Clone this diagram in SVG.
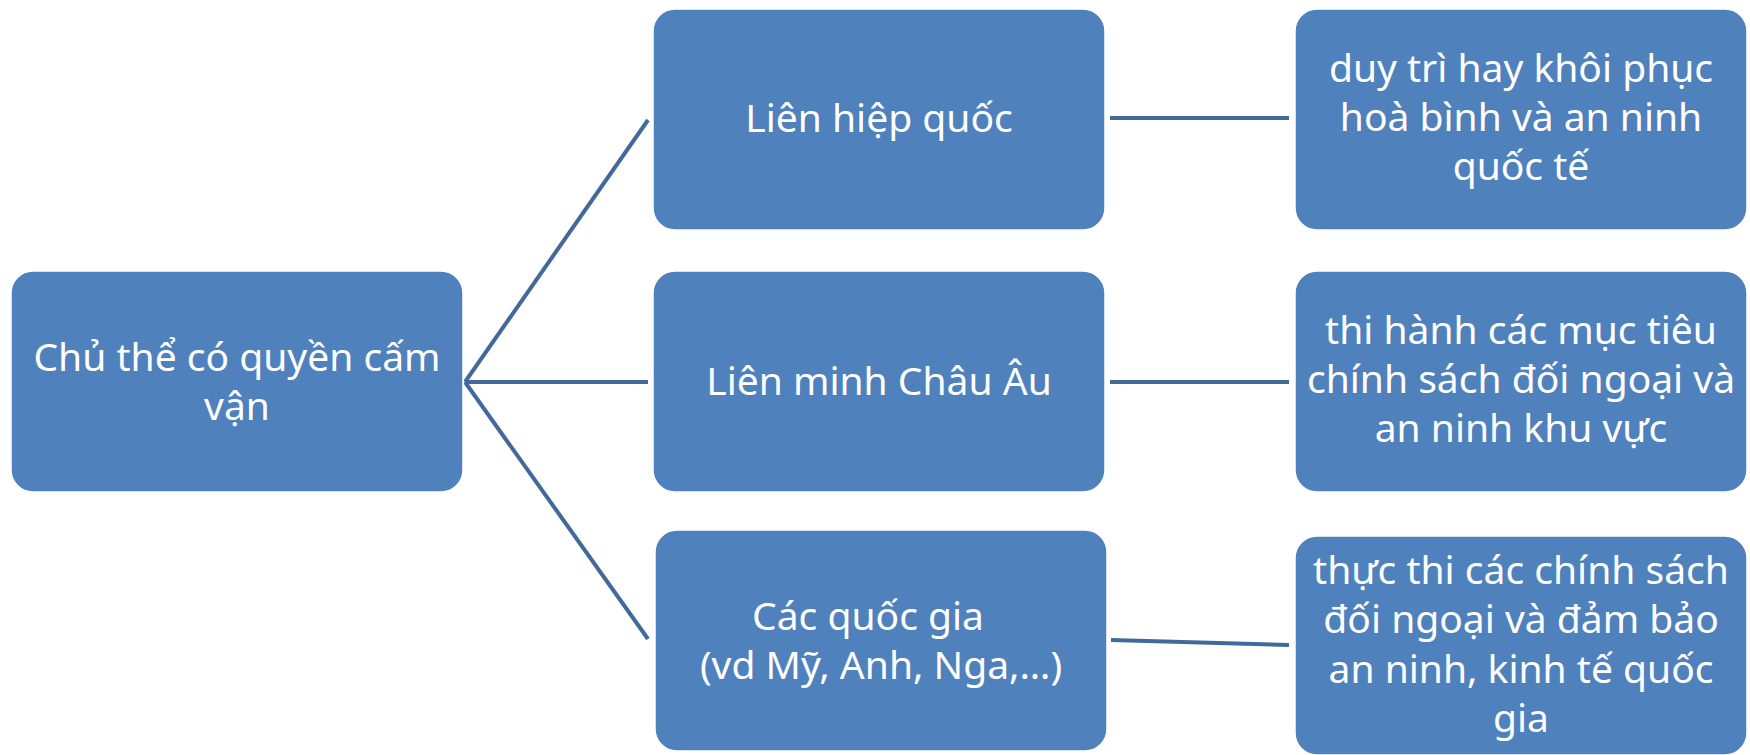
<svg xmlns="http://www.w3.org/2000/svg" width="1750" height="755" viewBox="0 0 1750 755">
<style>
.box{fill:#4F81BD;stroke:#ffffff;stroke-width:1.5}
.t{font-family:"Noto Sans","Open Sans","DejaVu Sans",sans-serif;font-size:39px;fill:#ffffff;text-anchor:middle}
.c{stroke:#41699A;stroke-width:4;fill:none}
</style>
<rect width="1750" height="755" fill="#ffffff"/>
<g id="connectors">
<line class="c" x1="465" y1="382" x2="648" y2="120"/>
<line class="c" x1="465" y1="382" x2="648" y2="382"/>
<line class="c" x1="465" y1="382" x2="648" y2="639"/>
<line class="c" x1="1110" y1="118" x2="1289" y2="118"/>
<line class="c" x1="1110" y1="382" x2="1289" y2="382"/>
<line class="c" x1="1111" y1="640" x2="1289" y2="645"/>
</g>
<g id="root">
<rect class="box" x="11" y="271" width="452" height="221" rx="22"/>
<text class="t" x="237" y="371">Chủ thể có quyền cấm</text>
<text class="t" x="237" y="420">vận</text>
</g>
<g id="lhq">
<rect class="box" x="653" y="9" width="452" height="221" rx="22"/>
<text class="t" x="879" y="132">Liên hiệp quốc</text>
</g>
<g id="eu">
<rect class="box" x="653" y="271" width="452" height="221" rx="22"/>
<text class="t" x="879" y="395">Liên minh Châu Âu</text>
</g>
<g id="qg">
<rect class="box" x="655" y="530" width="452" height="221" rx="22"/>
<text class="t" x="868" y="630">Các quốc gia</text>
<text class="t" x="881" y="679">(vd Mỹ, Anh, Nga,…)</text>
</g>
<g id="r1">
<rect class="box" x="1295" y="9" width="452" height="221" rx="22"/>
<text class="t" x="1521" y="82">duy trì hay khôi phục</text>
<text class="t" x="1521" y="131">hoà bình và an ninh</text>
<text class="t" x="1521" y="180">quốc tế</text>
</g>
<g id="r2">
<rect class="box" x="1295" y="271" width="452" height="221" rx="22"/>
<text class="t" x="1521" y="344">thi hành các mục tiêu</text>
<text class="t" x="1521" y="393">chính sách đối ngoại và</text>
<text class="t" x="1521" y="442">an ninh khu vực</text>
</g>
<g id="r3">
<rect class="box" x="1295" y="536" width="452" height="219" rx="22"/>
<text class="t" x="1521" y="584">thực thi các chính sách</text>
<text class="t" x="1521" y="633">đối ngoại và đảm bảo</text>
<text class="t" x="1521" y="683">an ninh, kinh tế quốc</text>
<text class="t" x="1521" y="732">gia</text>
</g>
</svg>
